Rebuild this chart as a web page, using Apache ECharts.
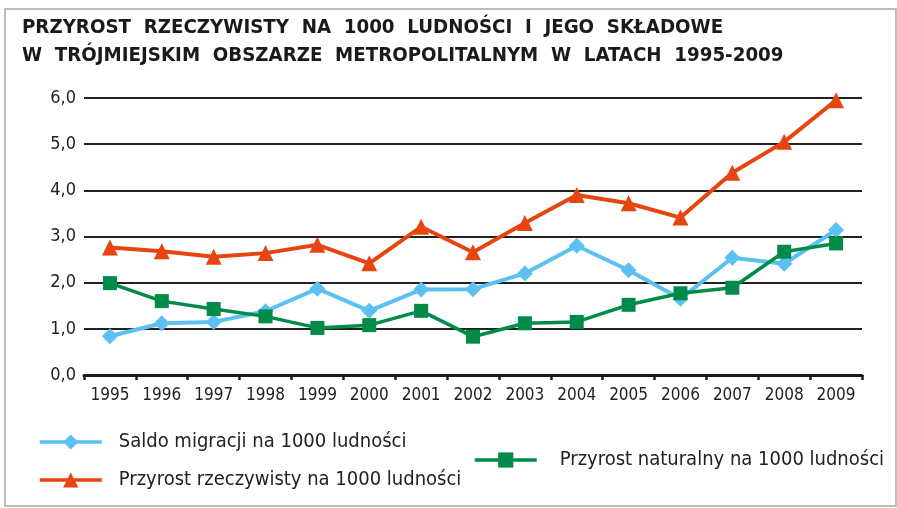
<!DOCTYPE html>
<html>
<head>
<meta charset="utf-8">
<script src="https://cdn.jsdelivr.net/npm/echarts@6/dist/echarts.min.js"></script>
<style>
    html, body { margin: 0; padding: 0; background: #fff; }
    #chart { width: 897px; height: 508px; }
</style>
</head>
<body>
<div id="chart"></div>
<script>
// Data
const years = ['1995', '1996', '1997', '1998', '1999', '2000', '2001', '2002',
    '2003', '2004', '2005', '2006', '2007', '2008', '2009'];
const saldoMigracji = [0.84, 1.12, 1.15, 1.38, 1.87, 1.39, 1.85, 1.86, 2.2, 2.8, 2.27, 1.65, 2.54, 2.41, 3.14];
const przyrostRzeczywisty = [2.76, 2.68, 2.56, 2.64, 2.82, 2.42, 3.21, 2.66, 3.29, 3.9, 3.72, 3.41, 4.38, 5.05, 5.95];
const przyrostNaturalny = [1.99, 1.6, 1.43, 1.27, 1.02, 1.08, 1.39, 0.83, 1.12, 1.15, 1.52, 1.77, 1.89, 2.67, 2.85];
const seriesNames = [
    'Saldo migracji na 1000 ludności',
    'Przyrost rzeczywisty na 1000 ludności',
    'Przyrost naturalny na 1000 ludności'
];

const FONT = '"DejaVu Sans Condensed", "Liberation Sans Narrow", sans-serif';

const chart = echarts.init(document.getElementById('chart'));

// one legend per item, they sit in two columns in the original
function legendAt(name, left, top, gap) {
    return {
        data: [name],
        left: left,
        top: top,
        padding: 0,
        itemWidth: 62,
        itemHeight: 19,
        lineStyle: { width: 3.5 },
        textStyle: {
            fontFamily: FONT,
            fontSize: 20,
            lineHeight: 20,
            color: '#222',
            padding: [0, 0, 0, gap]
        }
    };
}

const option = {
    animation: false,
    backgroundColor: '#fff',
    title: {
        text: 'PRZYROST  RZECZYWISTY  NA  1000  LUDNOŚCI  I  JEGO  SKŁADOWE\nW  TRÓJMIEJSKIM  OBSZARZE  METROPOLITALNYM  W  LATACH  1995-2009',
        left: 22,
        top: 14,
        padding: 0,
        textStyle: {
            fontFamily: FONT,
            fontWeight: 'bold',
            fontSize: 20.3,
            lineHeight: 28,
            color: '#1a1a1a'
        }
    },
    graphic: [{
        type: 'rect',
        shape: { x: 5, y: 9, width: 891, height: 497 },
        style: { fill: 'none', stroke: '#a8a8a8', lineWidth: 1.5 },
        silent: true
    }],
    legend: [
        legendAt(seriesNames[0], 38, 432, 12),
        legendAt(seriesNames[1], 38, 470, 12),
        legendAt(seriesNames[2], 473, 450, 18)
    ],
    grid: { left: 84, right: 35, top: 98, bottom: 133 },
    xAxis: {
        type: 'category',
        data: years,
        boundaryGap: true,
        axisLine: { lineStyle: { color: '#1a1a1a', width: 3 } },
        axisTick: { show: true, length: 5, lineStyle: { color: '#1a1a1a', width: 2.5 } },
        axisLabel: { fontFamily: FONT, fontSize: 17, color: '#222', margin: 12 }
    },
    yAxis: {
        type: 'value',
        min: 0,
        max: 6,
        interval: 1,
        axisLine: { show: false },
        axisTick: { show: false },
        axisLabel: {
            fontFamily: FONT,
            fontSize: 18,
            color: '#222',
            margin: 8,
            formatter: v => v.toFixed(1).replace('.', ',')
        },
        splitLine: { lineStyle: { color: '#222', width: 2 } }
    },
    series: [
        {
            name: seriesNames[0],
            type: 'line',
            data: saldoMigracji,
            symbol: 'diamond',
            symbolSize: 16,
            color: '#5bc0f2',
            lineStyle: { width: 4 },
            z: 2
        },
        {
            name: seriesNames[1],
            type: 'line',
            data: przyrostRzeczywisty,
            symbol: 'triangle',
            symbolSize: 16,
            color: '#e64510',
            lineStyle: { width: 4 },
            z: 3
        },
        {
            name: seriesNames[2],
            type: 'line',
            data: przyrostNaturalny,
            symbol: 'rect',
            symbolSize: 14,
            color: '#008b48',
            lineStyle: { width: 3.5 },
            z: 4
        }
    ]
};

chart.setOption(option);
</script>
</body>
</html>
